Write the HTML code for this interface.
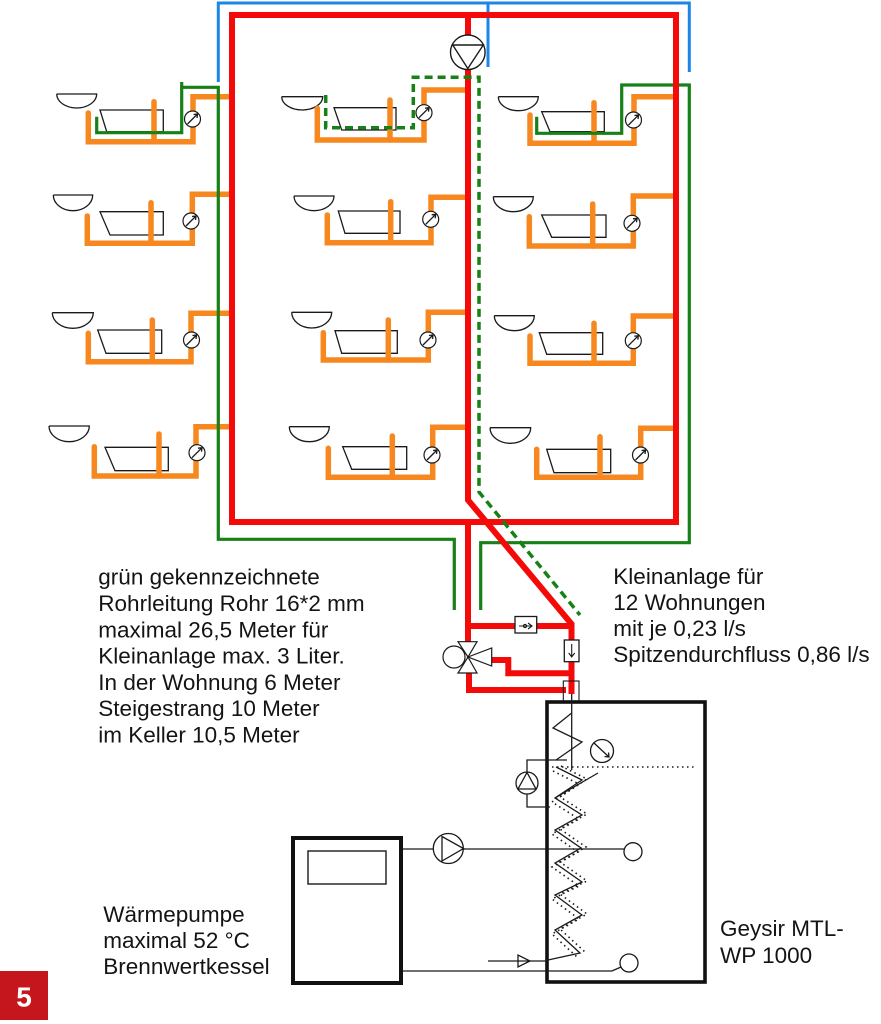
<!DOCTYPE html>
<html><head><meta charset="utf-8"><style>
html,body{margin:0;padding:0;background:#fff;}
svg{display:block;}
text{font-family:"Liberation Sans",Arial,sans-serif;fill:#141414;}
</style></head><body>
<svg width="881" height="1024" viewBox="0 0 881 1024" xmlns="http://www.w3.org/2000/svg">
<rect width="881" height="1024" fill="#fff"/>

<!-- blue -->
<g stroke="#1b85e8" stroke-width="3" fill="none">
<path d="M218.3 82 V3 H689.3 V72"/>
<path d="M488 3 V67"/>
</g>

<!-- tubs -->
<g stroke="#1a1a1a" stroke-width="1.3" fill="none">
<path d="M100 110 H163.3 V131.7 H106.7 Z"/>
<path d="M100 211.7 H163.3 V235 H110 Z"/>
<path d="M97.7 330 H161.7 V353.3 H106 Z"/>
<path d="M105 447.3 H168.3 V470.7 H115 Z"/>
<path d="M334 107.7 H396 V130 H341.7 Z"/>
<path d="M338.3 211 H400 V233.3 H345 Z"/>
<path d="M335 330.7 H397.3 V353.3 H341.7 Z"/>
<path d="M342.7 446.7 H406.7 V469.3 H351.7 Z"/>
<path d="M541.7 111.7 H604.3 V131.7 H550 Z"/>
<path d="M541.7 215 H606 V237.3 H551.7 Z"/>
<path d="M539.3 332.7 H602.7 V354.3 H546.7 Z"/>
<path d="M546.7 449.3 H610.7 V472.7 H554 Z"/>
<!-- basins -->
<path d="M56.7 94 H96.7 A20 14 0 0 1 56.7 94"/>
<path d="M53.3 195 H92.7 A19.7 15.7 0 0 1 53.3 195"/>
<path d="M52.3 312.7 H93.3 A20.5 15.6 0 0 1 52.3 312.7"/>
<path d="M49 426 H89.3 A20.15 15.7 0 0 1 49 426"/>
<path d="M281.7 96.7 H322.7 A20.5 13.3 0 0 1 281.7 96.7"/>
<path d="M294 196 H334 A20 14.7 0 0 1 294 196"/>
<path d="M291.7 312.3 H331.7 A20 15.7 0 0 1 291.7 312.3"/>
<path d="M289.3 426.7 H329.3 A20 15 0 0 1 289.3 426.7"/>
<path d="M498.3 96.7 H538.3 A20 14 0 0 1 498.3 96.7"/>
<path d="M493.3 196.7 H533.3 A20 15 0 0 1 493.3 196.7"/>
<path d="M494.3 315.7 H534.3 A20 15 0 0 1 494.3 315.7"/>
<path d="M490 427.7 H530.7 A20.35 15.6 0 0 1 490 427.7"/>
</g>

<!-- orange -->
<g stroke="#f7871f" stroke-width="5.5" fill="none" stroke-linejoin="miter" stroke-linecap="round">
<path d="M88.3 113 V141.7 H193 V96.7 H232"/><path d="M154 101.7 V141.7"/>
<path d="M87.3 216 V243.3 H192.3 V194.3 H232"/><path d="M151 202.7 V243.3"/>
<path d="M88.3 333.3 V361.7 H191 V313.3 H232"/><path d="M152.3 320 V361.7"/>
<path d="M94.3 446.7 V476 H196 V426.7 H232"/><path d="M159 434 V476"/>
<path d="M317.3 108.3 V140 H424 V90 H468"/><path d="M390 100 V140"/>
<path d="M327.3 215 V242.7 H431 V197.3 H468"/><path d="M390.7 201.7 V242.7"/>
<path d="M323.3 332.7 V360 H428.3 V312.3 H468"/><path d="M388.3 320 V360"/>
<path d="M328.3 448.3 V477.3 H432.7 V427.3 H468"/><path d="M392.3 436 V477.3"/>
<path d="M530 115 V143.3 H634 V96.7 H676"/><path d="M594 102.7 V143.3"/>
<path d="M529.3 216.7 V246 H633.3 V196 H676"/><path d="M592.7 204 V246"/>
<path d="M530 336 V363.3 H633.3 V316 H676"/><path d="M594 323.3 V363.3"/>
<path d="M536.7 449.3 V477.3 H640.7 V428.3 H676"/><path d="M600 436.7 V477.3"/>
</g>

<!-- meters -->
<g stroke="#1a1a1a" stroke-width="1.2" fill="#fff">
<circle cx="192.5" cy="119" r="8"/><circle cx="191" cy="221" r="8"/><circle cx="191.5" cy="340" r="8"/><circle cx="197" cy="452.7" r="8"/>
<circle cx="424" cy="112.7" r="8"/><circle cx="430.7" cy="219.3" r="8"/><circle cx="428" cy="340" r="8"/><circle cx="432" cy="455" r="8"/>
<circle cx="633.5" cy="120" r="8"/><circle cx="632" cy="223.3" r="8"/><circle cx="633.3" cy="340.7" r="8"/><circle cx="640.5" cy="455" r="8"/>
</g>
<g stroke="#1a1a1a" stroke-width="1.3" fill="none">
<path d="M187.5 124 L197.5 114 M193.5 114.5 L197.5 114 L197 118"/>
<path d="M186 226 L196 216 M192 216.5 L196 216 L195.5 220"/>
<path d="M186.5 345 L196.5 335 M192.5 335.5 L196.5 335 L196 339"/>
<path d="M192 457.7 L202 447.7 M198 448.2 L202 447.7 L201.5 451.7"/>
<path d="M419 117.7 L429 107.7 M425 108.2 L429 107.7 L428.5 111.7"/>
<path d="M425.7 224.3 L435.7 214.3 M431.7 214.8 L435.7 214.3 L435.2 218.3"/>
<path d="M423 345 L433 335 M429 335.5 L433 335 L432.5 339"/>
<path d="M427 460 L437 450 M433 450.5 L437 450 L436.5 454"/>
<path d="M628.5 125 L638.5 115 M634.5 115.5 L638.5 115 L638 119"/>
<path d="M627 228.3 L637 218.3 M633 218.8 L637 218.3 L636.5 222.3"/>
<path d="M628.3 345.7 L638.3 335.7 M634.3 336.2 L638.3 335.7 L637.8 339.7"/>
<path d="M635.5 460 L645.5 450 M641.5 450.5 L645.5 450 L645 454"/>
</g>

<!-- green solid -->
<g stroke="#178117" stroke-width="3.2" fill="none">
<path d="M96.7 116.7 V132.7 H181.7 V87.3 H218.3 V539.3 H454.3 V610"/>
<path d="M181.7 82 V88"/>
<path d="M536.7 116.7 V133.3 H621.7 V85 H689.3 V542.7 H480.7 V610"/>
</g>

<!-- red -->
<g stroke="#f50a0a" stroke-width="6" fill="none" stroke-linejoin="miter">
<rect x="232" y="15" width="444" height="507"/>
<path d="M468 15 V36"/>
<path d="M468 68 V500 L571.5 624 V694"/>
<path d="M468 522 V643"/>
<path d="M468 626 H571.5"/>
<path d="M490 660 H508.3 V673.3 H571.5"/>
<path d="M469 672 V690 H566"/>
</g>

<!-- green dashed -->
<g stroke="#178117" stroke-width="3.5" fill="none" stroke-dasharray="8 5">
<path d="M325.7 95 V127.7 H413.3 V77.3 H479 V492 L580 615"/>
</g>

<!-- top pump -->
<g stroke="#1a1a1a" stroke-width="1.4" fill="#fff">
<circle cx="467.8" cy="52.3" r="17.3"/>
<path d="M452.7 45 H483.3 L467.8 68.5 Z" fill="none"/>
</g>

<!-- check valves / boxes -->
<g stroke="#1a1a1a" stroke-width="1.3" fill="#fff">
<rect x="515" y="616.5" width="21.7" height="16.5"/>
<rect x="564.3" y="640" width="14.7" height="21.7"/>
</g>
<g stroke="#1a1a1a" stroke-width="1.1" fill="none">
<path d="M519 626 H532 M528 623 L532 626 L528 629"/>
<circle cx="525" cy="626" r="1.6"/>
<path d="M571.7 644 V657 M568.7 653 L571.7 657 L574.7 653"/>
<rect x="563.3" y="681" width="15.7" height="21"/>
</g>

<!-- three-way valve -->
<g stroke="#1a1a1a" stroke-width="1.2" fill="#fff">
<circle cx="454" cy="657" r="11"/>
<polygon points="458,641.7 477,641.7 468,657"/>
<polygon points="458,673 477,673 468,657"/>
<polygon points="468,657 491.7,648 491.7,666"/>
</g>

<!-- tank -->
<rect x="547" y="702" width="158" height="280" stroke="#111" stroke-width="3.6" fill="none"/>
<g stroke="#1a1a1a" stroke-width="1.3" fill="none">
<path d="M571.7 694 V770"/>
<polyline points="571.7,713 553,728 582,742 556,760"/>
<path d="M567 760 H527 V772 M527 794 V807 H550"/>
<circle cx="527" cy="783" r="11" fill="#fff"/>
<polygon points="527,772.5 518,789 536,789"/>
<circle cx="602" cy="751" r="11.5"/>
<path d="M594 743 L609 757 M604.5 756.5 L609 757 L608.5 752.5"/>
<polyline points="556,767 582,780 555,798 582,815 555,830 581,848 555,863 582,882 555,895 582,915 555,930 580,953 548,960"/>
<path d="M555 798 L598 773"/>
<circle cx="633" cy="851.7" r="9"/>
<circle cx="629" cy="963" r="9"/>
<path d="M402 849 H433 M463 849 H624"/>
<path d="M402 971 H612 L621 967"/>
<path d="M488 961 H548"/>
<polygon points="518,955 518,967 530,961"/>
</g>
<g stroke="#1a1a1a" stroke-width="1.6" fill="none" stroke-dasharray="1.5 3.5">
<path d="M552 767 H695"/>
<polyline transform="translate(5,-1)" points="556,767 582,780 555,798 582,815 555,830 581,848 555,863 582,882 555,895 582,915 555,930 580,953"/>
<polyline transform="translate(-3,4)" points="556,767 582,780 555,798 582,815 555,830 581,848 555,863 582,882 555,895 582,915 555,930 580,953"/>
</g>

<!-- heat pump pump -->
<g stroke="#1a1a1a" stroke-width="1.3" fill="#fff">
<circle cx="448.3" cy="848.5" r="15"/>
<polygon points="442,836.5 442,861 463.5,848.5" fill="none"/>
</g>

<!-- boiler -->
<rect x="293" y="838" width="108" height="145" stroke="#111" stroke-width="4" fill="none"/>
<rect x="308" y="851" width="78" height="33" stroke="#1a1a1a" stroke-width="1.4" fill="none"/>

<!-- texts -->
<g font-size="22.5">
<text x="98.3" y="584.7">grün gekennzeichnete</text>
<text x="98.3" y="611">Rohrleitung Rohr 16*2 mm</text>
<text x="98.3" y="637.3">maximal 26,5 Meter für</text>
<text x="98.3" y="663.6">Kleinanlage max. 3 Liter.</text>
<text x="98.3" y="689.9">In der Wohnung 6 Meter</text>
<text x="98.3" y="716.2">Steigestrang 10 Meter</text>
<text x="98.3" y="742.5">im Keller 10,5 Meter</text>

<text x="613.3" y="584">Kleinanlage für</text>
<text x="613.3" y="610">12 Wohnungen</text>
<text x="613.3" y="636">mit je 0,23 l/s</text>
<text x="613.3" y="662">Spitzendurchfluss 0,86 l/s</text>

<text x="103.3" y="922">Wärmepumpe</text>
<text x="103.3" y="948">maximal 52 °C</text>
<text x="103.3" y="974">Brennwertkessel</text>

<text x="720" y="936">Geysir MTL-</text>
<text x="720" y="963">WP 1000</text>
</g>

<!-- badge -->
<rect x="0" y="971" width="48" height="49" fill="#c4161c"/>
<text x="24" y="1006.5" font-size="28" font-weight="bold" text-anchor="middle" style="fill:#fff">5</text>
</svg>
</body></html>
